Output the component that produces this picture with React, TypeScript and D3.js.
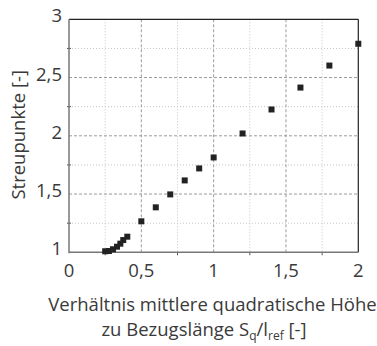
import React from "react";
import * as d3 from "d3";

const xValues = [0.25, 0.276, 0.304, 0.332, 0.355, 0.375, 0.403, 0.5, 0.6, 0.7, 0.8, 0.9, 1.0, 1.2, 1.4, 1.6, 1.8, 2.0];
const yValues = [1.009, 1.011, 1.026, 1.048, 1.074, 1.105, 1.134, 1.266, 1.386, 1.497, 1.617, 1.72, 1.814, 2.02, 2.226, 2.414, 2.603, 2.79];
const xTicks = [0, 0.5, 1, 1.5, 2];
const yTicks = [1, 1.5, 2, 2.5, 3];
const xMinor = [0.25, 0.75, 1.25, 1.75];
const yMinor = [1.25, 1.75, 2.25, 2.75];

const fmt = (v: number) => String(v).replace(".", ",");

export default function App() {
  const W = 377, H = 346;
  const L = 69, R = 358.3, T = 19.3, B = 252.3;
  const x = d3.scaleLinear().domain([0, 2]).range([L, R]);
  const y = d3.scaleLinear().domain([1, 3]).range([B, T]);
  const font = "'Open Sans', 'Noto Sans', sans-serif";
  const txt = "#3a3a3a";
  const ms = 6;
  const fs = 18.5;
  return (
    <svg width={W} height={H} style={{ position: "absolute", left: 0, top: 0 }} fontFamily={font}>
      <rect x={0} y={0} width={W} height={H} fill="#fff" />
      {xMinor.map((v) => (
        <line key={"xm" + v} x1={x(v)} x2={x(v)} y1={T} y2={B} stroke="#c4c4c4" strokeWidth={1} strokeDasharray="1,2" />
      ))}
      {yMinor.map((v) => (
        <line key={"ym" + v} x1={L} x2={R} y1={y(v)} y2={y(v)} stroke="#c4c4c4" strokeWidth={1} strokeDasharray="1,2" />
      ))}
      {xTicks.slice(1, -1).map((v) => (
        <line key={"xg" + v} x1={x(v)} x2={x(v)} y1={T} y2={B} stroke="#9a9a9a" strokeWidth={1} strokeDasharray="3,2" />
      ))}
      {yTicks.slice(1, -1).map((v) => (
        <line key={"yg" + v} x1={L} x2={R} y1={y(v)} y2={y(v)} stroke="#9a9a9a" strokeWidth={1} strokeDasharray="3,2" />
      ))}
      {xMinor.map((v) => (
        <line key={"xt" + v} x1={x(v)} x2={x(v)} y1={B} y2={B + 3} stroke="#555" strokeWidth={1} />
      ))}
      {yMinor.map((v) => (
        <line key={"yt" + v} x1={L - 2} x2={L + 2} y1={y(v)} y2={y(v)} stroke="#555" strokeWidth={1} />
      ))}
      <line x1={L} x2={R} y1={T} y2={T} stroke="#222" strokeWidth={1.2} />
      <line x1={R} x2={R} y1={T} y2={B} stroke="#222" strokeWidth={1.2} />
      <line x1={L} x2={L} y1={T} y2={B + 1} stroke="#777" strokeWidth={1.5} />
      <line x1={L} x2={R} y1={B} y2={B} stroke="#777" strokeWidth={1.5} />
      {xValues.map((v, i) => (
        <rect key={"p" + i} x={x(v) - ms / 2} y={y(yValues[i]) - ms / 2} width={ms} height={ms} fill="#222" />
      ))}
      {xTicks.map((v) => (
        <text key={"xl" + v} x={x(v)} y={277} textAnchor="middle" fontSize={fs} fill={txt}>
          {fmt(v)}
        </text>
      ))}
      {yTicks.map((v) => (
        <text key={"yl" + v} x={62} y={y(v) + 3} textAnchor="end" fontSize={fs} fill={txt}>
          {fmt(v)}
        </text>
      ))}
      <text transform={`translate(25,${(T + B) / 2 - 1}) rotate(-90)`} textAnchor="middle" fontSize={fs} fill={txt}>
        Streupunkte [-]
      </text>
      <text x={212.5} y={311} textAnchor="middle" fontSize={fs} fill={txt}>
        Verhältnis mittlere quadratische Höhe
      </text>
      <text x={204} y={336} textAnchor="middle" fontSize={fs} fill={txt}>
        zu Bezugslänge S
        <tspan fontSize={12} dy={4}>q</tspan>
        <tspan dy={-4}>/l</tspan>
        <tspan fontSize={12} dy={4}>ref</tspan>
        <tspan dy={-4}> [-]</tspan>
      </text>
    </svg>
  );
}
